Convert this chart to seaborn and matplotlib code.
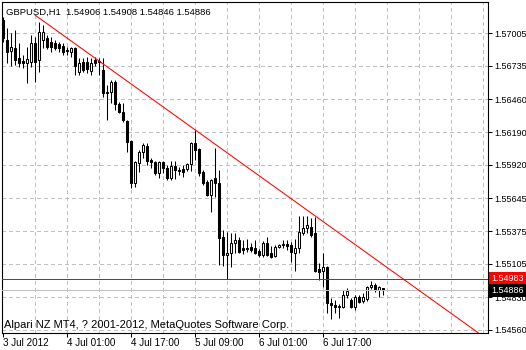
import matplotlib
matplotlib.use("Agg")
import matplotlib.pyplot as plt
import matplotlib.transforms as mtransforms
import seaborn as sns
import numpy as np
import pandas as pd

# ---------------- data (hourly bars, GBPUSD H1) ----------------
bar_index = list(range(96))
opens = [1.57112, 1.56948, 1.56857, 1.56882, 1.56800, 1.56775, 1.56759, 1.56767, 1.56923, 1.56783,
         1.56948, 1.56964, 1.56931, 1.56923, 1.56915, 1.56898, 1.56865, 1.56849, 1.56882, 1.56684,
         1.56767, 1.56767, 1.56693, 1.56783, 1.56775, 1.56701, 1.56520, 1.56520, 1.56602, 1.56421,
         1.56355, 1.56281, 1.56117, 1.55771, 1.55936, 1.56026, 1.56075, 1.55960, 1.55944, 1.55853,
         1.55944, 1.55894, 1.55812, 1.55911, 1.55878, 1.55886, 1.55886, 1.55927, 1.56100, 1.56051,
         1.55861, 1.55779, 1.55672, 1.55812, 1.55771, 1.55326, 1.55178, 1.55195, 1.55277, 1.55302,
         1.55236, 1.55228, 1.55244, 1.55236, 1.55211, 1.55178, 1.55277, 1.55195, 1.55170, 1.55244,
         1.55261, 1.55269, 1.55261, 1.55195, 1.55236, 1.55359, 1.55401, 1.55409, 1.55359, 1.55063,
         1.55047, 1.55080, 1.54783, 1.54767, 1.54750, 1.54750, 1.54849, 1.54808, 1.54750, 1.54833,
         1.54800, 1.54816, 1.54915, 1.54931, 1.54890, 1.54906]
highs = [1.57137, 1.57046, 1.57005, 1.57030, 1.56923, 1.56824, 1.56890, 1.56989, 1.56972, 1.57096,
         1.57071, 1.56989, 1.56972, 1.56948, 1.56931, 1.56923, 1.56890, 1.56890, 1.56890, 1.56800,
         1.56800, 1.56808, 1.56800, 1.56808, 1.56800, 1.56800, 1.56577, 1.56619, 1.56619, 1.56438,
         1.56429, 1.56289, 1.56125, 1.55952, 1.56042, 1.56100, 1.56100, 1.55977, 1.55952, 1.55952,
         1.55952, 1.55919, 1.55952, 1.55952, 1.55903, 1.55919, 1.55936, 1.56108, 1.56207, 1.56059,
         1.55878, 1.55796, 1.55804, 1.56059, 1.55878, 1.55384, 1.55368, 1.55359, 1.55359, 1.55326,
         1.55302, 1.55310, 1.55277, 1.55302, 1.55228, 1.55294, 1.55326, 1.55252, 1.55261, 1.55269,
         1.55302, 1.55302, 1.55285, 1.55310, 1.55499, 1.55499, 1.55499, 1.55483, 1.55491, 1.55113,
         1.55195, 1.55088, 1.54824, 1.54808, 1.54775, 1.54890, 1.54907, 1.54824, 1.54849, 1.54849,
         1.54866, 1.54923, 1.54964, 1.54948, 1.54923, 1.54908]
lows = [1.56931, 1.56759, 1.56734, 1.56742, 1.56726, 1.56717, 1.56594, 1.56726, 1.56602, 1.56684,
        1.56882, 1.56874, 1.56849, 1.56865, 1.56849, 1.56824, 1.56824, 1.56808, 1.56660, 1.56660,
        1.56684, 1.56676, 1.56660, 1.56734, 1.56660, 1.56479, 1.56289, 1.56429, 1.56372, 1.56347,
        1.56273, 1.56026, 1.55730, 1.55738, 1.55861, 1.55977, 1.55919, 1.55894, 1.55837, 1.55812,
        1.55853, 1.55796, 1.55796, 1.55804, 1.55837, 1.55820, 1.55870, 1.55870, 1.55960, 1.55829,
        1.55754, 1.55664, 1.55532, 1.55656, 1.55096, 1.55088, 1.54981, 1.55080, 1.55195, 1.55195,
        1.55187, 1.55203, 1.55203, 1.55187, 1.55162, 1.55162, 1.55170, 1.55154, 1.55162, 1.55236,
        1.55236, 1.55219, 1.55121, 1.55047, 1.55195, 1.55343, 1.55359, 1.55326, 1.55038, 1.54973,
        1.54915, 1.54701, 1.54651, 1.54701, 1.54660, 1.54742, 1.54824, 1.54742, 1.54726, 1.54783,
        1.54783, 1.54800, 1.54899, 1.54874, 1.54833, 1.54846]
closes = [1.56964, 1.56849, 1.56890, 1.56783, 1.56759, 1.56759, 1.56791, 1.56923, 1.56767, 1.57014,
          1.57014, 1.56890, 1.56890, 1.56882, 1.56882, 1.56849, 1.56857, 1.56882, 1.56734, 1.56759,
          1.56701, 1.56709, 1.56759, 1.56759, 1.56767, 1.56512, 1.56512, 1.56602, 1.56421, 1.56355,
          1.56289, 1.56108, 1.55771, 1.55944, 1.56026, 1.56084, 1.55952, 1.55944, 1.55853, 1.55944,
          1.55894, 1.55812, 1.55911, 1.55878, 1.55870, 1.55861, 1.55927, 1.56100, 1.56042, 1.55853,
          1.55771, 1.55672, 1.55796, 1.55771, 1.55318, 1.55178, 1.55195, 1.55277, 1.55302, 1.55203,
          1.55219, 1.55236, 1.55219, 1.55195, 1.55178, 1.55277, 1.55178, 1.55162, 1.55244, 1.55261,
          1.55269, 1.55252, 1.55203, 1.55236, 1.55368, 1.55401, 1.55425, 1.55343, 1.55047, 1.55038,
          1.55080, 1.54783, 1.54767, 1.54750, 1.54759, 1.54849, 1.54882, 1.54750, 1.54833, 1.54791,
          1.54833, 1.54915, 1.54931, 1.54890, 1.54915, 1.54886]

tick_positions = [0, 16, 32, 48, 64, 80]
tick_labels = ["3 Jul 2012", "4 Jul 01:00", "4 Jul 17:00", "5 Jul 09:00", "6 Jul 01:00", "6 Jul 17:00"]
grid_positions = [8, 16, 24, 32, 40, 48, 56, 64, 72, 80, 88, 96, 104, 112, 120]
price_ticks = [1.57005, 1.56735, 1.56460, 1.56190, 1.55920, 1.55645, 1.55375, 1.55105, 1.54830, 1.54560]
ask_price = 1.54983
bid_price = 1.54886
trend_x = [8, 121]
trend_y = [1.57153, 1.54485]
title_text = "GBPUSD,H1  1.54906 1.54908 1.54846 1.54886"
copyright_text = "Alpari NZ MT4, ? 2001-2012, MetaQuotes Software Corp."

# ---------------- style ----------------
sns.set_style("white")
plt.rcParams['font.family'] = ['Liberation Sans', 'DejaVu Sans']
FS_Y = 6.5
FS_X = 7.1
FS_TITLE = 6.8
FS_COPY = 8.0

W, H = 526, 350
fig = plt.figure(figsize=(W / 100, H / 100), dpi=100)
fig.patch.set_facecolor("white")
ax = fig.add_axes([2 / W, 1 - 333 / H, 486 / W, 331 / H])
ax.set_facecolor("white")
ax.set_xlim(-0.25, 121.25)
ax.set_ylim(1.545353, 1.572604)

# grid
grid_kw = dict(color="#c0c0c0", lw=0.5, ls=(0, (4.4, 4.4)), zorder=0.5, antialiased=False)
for gx in grid_positions:
    ax.axvline(gx, **grid_kw)
for gy in price_ticks:
    ax.axhline(gy, **grid_kw)

df = pd.DataFrame(dict(i=bar_index, o=opens, h=highs, l=lows, c=closes))
df["bull"] = df["c"] >= df["o"]
df["bottom"] = np.minimum(df["o"], df["c"])
df["height"] = (df["c"] - df["o"]).abs()

# wicks
ax.vlines(df["i"], df["l"], df["h"], color="black", lw=0.75, zorder=2)
# bodies
bull = df[df["bull"]]
bear = df[~df["bull"]]
ax.bar(bull["i"], bull["height"], bottom=bull["bottom"], width=0.55,
       facecolor="white", edgecolor="black", linewidth=0.75, zorder=3)
ax.bar(bear["i"], bear["height"], bottom=bear["bottom"], width=0.55,
       facecolor="black", edgecolor="black", linewidth=0.75, zorder=3)

# price lines and trendline
ax.axhline(bid_price, color="#c0c0c0", lw=0.5, zorder=4, antialiased=False)
ax.axhline(ask_price, color="#ff0000", lw=0.5, zorder=4, antialiased=False)
sns.lineplot(x=trend_x, y=trend_y, color="#ff0000", lw=0.75, ax=ax, zorder=4)

# axes / ticks
for s in ax.spines.values():
    s.set_visible(True)
    s.set_color("black")
    s.set_linewidth(0.8)
ax.yaxis.tick_right()
ax.set_yticks(price_ticks)
ax.set_yticklabels([f"{p:.5f}" for p in price_ticks])
ax.set_xticks(tick_positions)
ax.set_xticklabels(tick_labels, ha="left")
ax.tick_params(axis="y", direction="out", length=3, width=0.75, pad=1.5,
               labelsize=FS_Y, colors="black", right=True, left=False)
ax.tick_params(axis="x", direction="out", length=3, width=0.75, pad=0.8,
               labelsize=FS_X, colors="black", bottom=True)
ax.set_xlabel("")
ax.set_ylabel("")

# price boxes on right
blend = mtransforms.blended_transform_factory(ax.transAxes, ax.transData)
ax.text(1.006, ask_price, f"{ask_price:.5f}", transform=blend, ha="left", va="center",
        fontsize=FS_Y, color="white", clip_on=False, zorder=10,
        bbox=dict(boxstyle="square,pad=0.25", fc="#ff0000", ec="none"))
ax.text(1.006, bid_price, f"{bid_price:.5f}", transform=blend, ha="left", va="center",
        fontsize=FS_Y, color="white", clip_on=False, zorder=11,
        bbox=dict(boxstyle="square,pad=0.25", fc="black", ec="none"))

fig.text(6 / W, 1 - 15 / H, title_text, fontsize=FS_TITLE, color="black", ha="left", va="baseline")
fig.text(4 / W, 1 - 328 / H, copyright_text, fontsize=FS_COPY, color="black", ha="left", va="baseline")

fig.savefig("out.png", dpi=100, facecolor="white")
